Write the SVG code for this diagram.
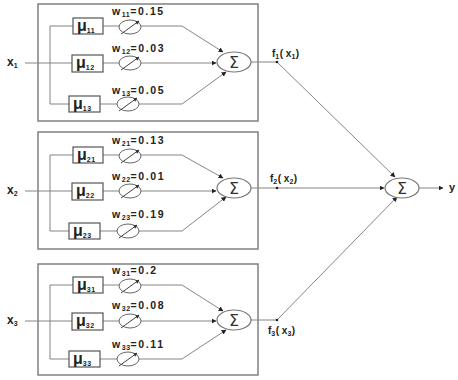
<svg xmlns="http://www.w3.org/2000/svg" width="458" height="380" viewBox="0 0 458 380">
<defs>
<marker id="ah" markerWidth="5" markerHeight="5" refX="4.5" refY="2.5" orient="auto" markerUnits="userSpaceOnUse"><path d="M0,0 L5,2.5 L0,5 z" fill="#222"/></marker>
<marker id="sl" markerWidth="4" markerHeight="4" refX="3.5" refY="2" orient="auto" markerUnits="userSpaceOnUse"><path d="M0,0 L4,2 L0,4 z" fill="#333"/></marker>
</defs>
<style>
.box{fill:none;stroke:#888;stroke-width:1.6}
.mu{fill:#fff;stroke:#555;stroke-width:1.2}
.ln{fill:none;stroke:#777;stroke-width:0.9}
.w{fill:#fff;stroke:#666;stroke-width:1}
.sl{stroke:#444;stroke-width:1}
.sg{fill:#fff;stroke:#777;stroke-width:1.2}
.t{font-family:"Liberation Sans",Arial,sans-serif;font-weight:bold;fill:#222}
.lab{font-size:10.5px;letter-spacing:1.6px}
.sub{font-size:7px;letter-spacing:0.5px}
.mut{font-family:"Liberation Sans",Arial,sans-serif;font-weight:bold;font-size:16px;fill:#222}
.sig{font-family:"DejaVu Sans",sans-serif;font-size:16px;fill:#333;text-anchor:middle}
</style>
<rect width="458" height="380" fill="#fff"/>

<g id="connectors">
<line class="ln" x1="25" y1="63" x2="72" y2="63"/>
<polyline class="ln" points="73,26 50,26 50,104 69,104"/>
<polyline class="ln" points="103,26 182,26 223,52" marker-end="url(#ah)"/>
<line class="ln" x1="103" y1="63" x2="216" y2="63" marker-end="url(#ah)"/>
<polyline class="ln" points="100,104 182,104 226,72" marker-end="url(#ah)"/>
<line class="ln" x1="251" y1="62" x2="277" y2="62"/>
<line class="ln" x1="277" y1="62" x2="395" y2="177" marker-end="url(#ah)"/>
<line class="ln" x1="25" y1="191" x2="72" y2="191"/>
<polyline class="ln" points="73,155 50,155 50,231 69,231"/>
<polyline class="ln" points="103,155 182,155 223,178" marker-end="url(#ah)"/>
<line class="ln" x1="103" y1="191" x2="216" y2="191" marker-end="url(#ah)"/>
<polyline class="ln" points="100,231 182,231 226,197" marker-end="url(#ah)"/>
<line class="ln" x1="251" y1="188" x2="384" y2="188" marker-end="url(#ah)"/>
<line class="ln" x1="25" y1="321" x2="72" y2="321"/>
<polyline class="ln" points="73,285 50,285 50,359 69,359"/>
<polyline class="ln" points="103,285 182,285 223,311" marker-end="url(#ah)"/>
<line class="ln" x1="103" y1="321" x2="216" y2="321" marker-end="url(#ah)"/>
<polyline class="ln" points="100,359 182,359 226,330" marker-end="url(#ah)"/>
<line class="ln" x1="251" y1="320" x2="277" y2="320"/>
<line class="ln" x1="277" y1="320" x2="397" y2="197" marker-end="url(#ah)"/>
<line class="ln" x1="419" y1="188" x2="443" y2="188" marker-end="url(#ah)"/>
<circle cx="277" cy="62" r="1.3" fill="#222"/>
<circle cx="277" cy="188" r="1.3" fill="#222"/>
<circle cx="277" cy="320" r="1.3" fill="#222"/>
</g>

<g id="block1">
<rect class="box" x="38" y="4" width="220" height="117"/>
<text class="t" x="7" y="66" font-size="12">x<tspan class="sub" dy="2">1</tspan></text>
</g>
<g id="mu11"><rect class="mu" x="73" y="18" width="30" height="16"/><text class="mut" x="77" y="31">μ<tspan class="sub" dy="2">11</tspan></text></g>
<g id="mu12"><rect class="mu" x="72" y="55" width="31" height="17"/><text class="mut" x="76" y="68">μ<tspan class="sub" dy="2">12</tspan></text></g>
<g id="mu13"><rect class="mu" x="69" y="96" width="31" height="16"/><text class="mut" x="73" y="109">μ<tspan class="sub" dy="2">13</tspan></text></g>
<g id="w11"><ellipse class="w" cx="130" cy="27" rx="11" ry="7"/><line class="sl" x1="121" y1="34" x2="139" y2="21" marker-end="url(#sl)"/><text class="t lab" x="112" y="15">w<tspan class="sub" dy="2">11</tspan><tspan dy="-2">=0.15</tspan></text></g>
<g id="w12"><ellipse class="w" cx="130" cy="63" rx="11" ry="7"/><line class="sl" x1="121" y1="70" x2="139" y2="57" marker-end="url(#sl)"/><text class="t lab" x="112" y="52">w<tspan class="sub" dy="2">12</tspan><tspan dy="-2">=0.03</tspan></text></g>
<g id="w13"><ellipse class="w" cx="128" cy="104" rx="11" ry="7"/><line class="sl" x1="119" y1="111" x2="137" y2="98" marker-end="url(#sl)"/><text class="t lab" x="112" y="94">w<tspan class="sub" dy="2">13</tspan><tspan dy="-2">=0.05</tspan></text></g>
<g id="sum1"><ellipse class="sg" cx="234" cy="62" rx="17" ry="10"/><text class="sig" x="234" y="68">Σ</text></g>
<g id="f1"><text class="t" x="272" y="57" font-size="10">f<tspan class="sub" dy="2">1</tspan><tspan dy="-2">( x</tspan><tspan class="sub" dy="2">1</tspan><tspan dy="-2">)</tspan></text></g>

<g id="block2">
<rect class="box" x="38" y="132" width="220" height="117"/>
<text class="t" x="7" y="194" font-size="12">x<tspan class="sub" dy="2">2</tspan></text>
</g>
<g id="mu21"><rect class="mu" x="73" y="147" width="30" height="16"/><text class="mut" x="77" y="160">μ<tspan class="sub" dy="2">21</tspan></text></g>
<g id="mu22"><rect class="mu" x="72" y="183" width="31" height="17"/><text class="mut" x="76" y="196">μ<tspan class="sub" dy="2">22</tspan></text></g>
<g id="mu23"><rect class="mu" x="69" y="223" width="31" height="16"/><text class="mut" x="73" y="236">μ<tspan class="sub" dy="2">23</tspan></text></g>
<g id="w21"><ellipse class="w" cx="130" cy="156" rx="11" ry="7"/><line class="sl" x1="121" y1="163" x2="139" y2="150" marker-end="url(#sl)"/><text class="t lab" x="112" y="144">w<tspan class="sub" dy="2">21</tspan><tspan dy="-2">=0.13</tspan></text></g>
<g id="w22"><ellipse class="w" cx="130" cy="191" rx="11" ry="7"/><line class="sl" x1="121" y1="198" x2="139" y2="185" marker-end="url(#sl)"/><text class="t lab" x="112" y="180">w<tspan class="sub" dy="2">22</tspan><tspan dy="-2">=0.01</tspan></text></g>
<g id="w23"><ellipse class="w" cx="128" cy="231" rx="11" ry="7"/><line class="sl" x1="119" y1="238" x2="137" y2="225" marker-end="url(#sl)"/><text class="t lab" x="112" y="218">w<tspan class="sub" dy="2">23</tspan><tspan dy="-2">=0.19</tspan></text></g>
<g id="sum2"><ellipse class="sg" cx="234" cy="188" rx="17" ry="10"/><text class="sig" x="234" y="194">Σ</text></g>
<g id="f2"><text class="t" x="270" y="182" font-size="10">f<tspan class="sub" dy="2">2</tspan><tspan dy="-2">( x</tspan><tspan class="sub" dy="2">2</tspan><tspan dy="-2">)</tspan></text></g>

<g id="block3">
<rect class="box" x="38" y="264" width="220" height="111"/>
<text class="t" x="7" y="324" font-size="12">x<tspan class="sub" dy="2">3</tspan></text>
</g>
<g id="mu31"><rect class="mu" x="73" y="277" width="30" height="16"/><text class="mut" x="77" y="290">μ<tspan class="sub" dy="2">31</tspan></text></g>
<g id="mu32"><rect class="mu" x="72" y="313" width="31" height="17"/><text class="mut" x="76" y="326">μ<tspan class="sub" dy="2">32</tspan></text></g>
<g id="mu33"><rect class="mu" x="69" y="351" width="31" height="16"/><text class="mut" x="73" y="364">μ<tspan class="sub" dy="2">33</tspan></text></g>
<g id="w31"><ellipse class="w" cx="130" cy="286" rx="11" ry="7"/><line class="sl" x1="121" y1="293" x2="139" y2="280" marker-end="url(#sl)"/><text class="t lab" x="112" y="274">w<tspan class="sub" dy="2">31</tspan><tspan dy="-2">=0.2</tspan></text></g>
<g id="w32"><ellipse class="w" cx="130" cy="321" rx="11" ry="7"/><line class="sl" x1="121" y1="328" x2="139" y2="315" marker-end="url(#sl)"/><text class="t lab" x="112" y="309">w<tspan class="sub" dy="2">32</tspan><tspan dy="-2">=0.08</tspan></text></g>
<g id="w33"><ellipse class="w" cx="128" cy="359" rx="11" ry="7"/><line class="sl" x1="119" y1="366" x2="137" y2="353" marker-end="url(#sl)"/><text class="t lab" x="112" y="348">w<tspan class="sub" dy="2">33</tspan><tspan dy="-2">=0.11</tspan></text></g>
<g id="sum3"><ellipse class="sg" cx="234" cy="320" rx="17" ry="10"/><text class="sig" x="234" y="326">Σ</text></g>
<g id="f3"><text class="t" x="268" y="334" font-size="10">f<tspan class="sub" dy="2">3</tspan><tspan dy="-2">( x</tspan><tspan class="sub" dy="2">3</tspan><tspan dy="-2">)</tspan></text></g>

<g id="sumOut"><ellipse class="sg" cx="402" cy="188" rx="17" ry="10"/><text class="sig" x="402" y="194">Σ</text></g>
<g id="y"><text class="t" x="449" y="191" font-size="11">y</text></g>
</svg>
